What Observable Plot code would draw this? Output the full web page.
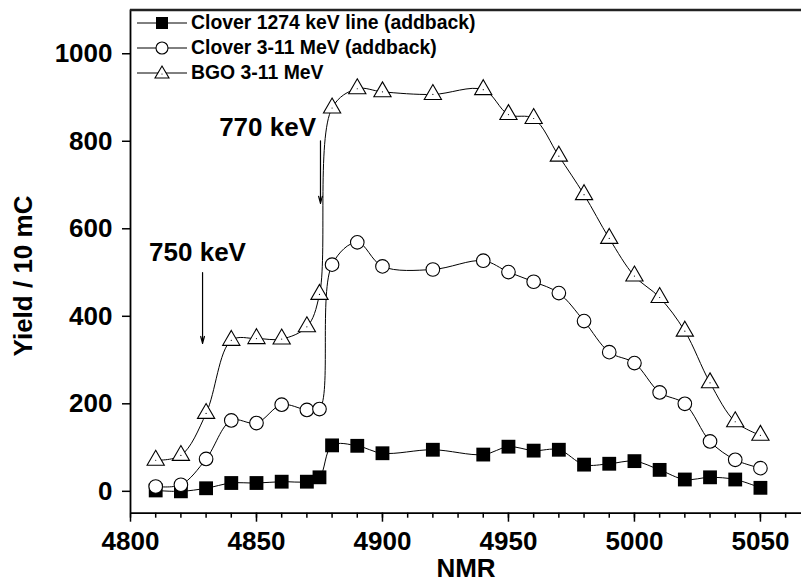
<!DOCTYPE html>
<html><head><meta charset="utf-8">
<script src="https://cdn.jsdelivr.net/npm/d3@7"></script>
<script src="https://cdn.jsdelivr.net/npm/@observablehq/plot@0.6"></script>
<style>
body{margin:0;background:#fff;}
#wrap{position:relative;width:801px;height:586px;font-family:"Liberation Sans",Arial,sans-serif;background:#fff;overflow:hidden;}
#legend{position:absolute;left:137px;top:10px;font-weight:bold;font-size:19.4px;color:#000;}
#legend .row{display:flex;align-items:center;height:25px;}
#legend svg{margin-right:4px;}
#ytitle{position:absolute;left:23px;top:276px;transform:translate(-50%,-50%) rotate(-90deg);white-space:nowrap;font-weight:bold;font-size:26px;color:#000;}
</style></head><body><div id="wrap"><div id="legend"></div><div id="ytitle">Yield / 10 mC</div></div>
<script>
// ---- data ----
const nmr = [4810,4820,4830,4840,4850,4860,4870,4875,4880,4890,4900,4920,4940,4950,4960,4970,4980,4990,5000,5010,5020,5030,5040,5050];
const clover1274 = [2,0,7,19,19,22,22,32,105,104,87,95,84,102,93,95,61,63,69,49,27,32,27,8];
const clover311 = [11,15,74,162,156,198,186,188,518,569,514,507,527,501,479,453,389,318,293,226,200,114,72,53];
const bgo = [71,82,178,345,349,348,376,450,876,920,913,907,918,861,852,766,678,578,492,443,366,248,159,128];
const seriesNames = ["Clover 1274 keV line (addback)", "Clover 3-11 MeV (addback)", "BGO 3-11 MeV"];
const xTicks = [4800,4850,4900,4950,5000,5050];
const xMinorTicks = [4800,4810,4820,4830,4840,4850,4860,4870,4880,4890,4900,4910,4920,4930,4940,4950,4960,4970,4980,4990,5000,5010,5020,5030,5040,5050,5060];
const yTicks = [0,200,400,600,800,1000];
const annotLabels = ["750 keV","770 keV"];
const annotLabelX = [4826.6, 4854.4];
const annotLabelY = [546, 830];
const arrowX = [4828.6, 4875.4];
const arrowTop = [500, 801];
const arrowBottom = [338, 658];

// ---- build ----
const allValues = [clover1274, clover311, bgo];
const rows = allValues.flatMap((vals, s) => nmr.map((x, i) => ({x, y: vals[i], name: seriesNames[s]})));
const sq = rows.filter(d => d.name === seriesNames[0]);
const ci = rows.filter(d => d.name === seriesNames[1]);
const tr = rows.filter(d => d.name === seriesNames[2]);
const annots = annotLabels.map((t, i) => ({t, lx: annotLabelX[i], ly: annotLabelY[i], ax: arrowX[i], a1: arrowTop[i], a2: arrowBottom[i]}));

const font = "'Liberation Sans', Arial, sans-serif";
const plot = Plot.plot({
  width: 801, height: 586,
  marginLeft: 130, marginRight: 0, marginTop: 9.5, marginBottom: 73.3,
  x: {domain: [4800, 5066.3]},
  y: {domain: [-50, 1100]},
  style: {fontFamily: font, fontWeight: "bold", fontSize: "26px", background: "white", color: "black"},
  marks: [
    Plot.axisX({ticks: xMinorTicks, tickSize: 5, tickFormat: () => "", strokeWidth: 1.5, label: null}),
    Plot.axisX({ticks: xTicks, tickSize: 9, tickPadding: 9, tickFormat: d => String(d), strokeWidth: 1.5, fontSize: 26, fontWeight: "bold", label: null}),
    Plot.axisY({ticks: yTicks, tickSize: 8, tickPadding: 10, tickFormat: d => String(d), strokeWidth: 1.5, fontSize: 26, fontWeight: "bold", label: null}),
    Plot.ruleX([4800], {strokeWidth: 1.8}),
    Plot.ruleY([-50], {strokeWidth: 1.8}),
    Plot.ruleY([1100], {strokeWidth: 2.3, stroke: "#222"}),
    Plot.text(["NMR"], {frameAnchor: "bottom", dy: 64, fontSize: 26, fontWeight: "bold"}),
    Plot.line(rows, {x: "x", y: "y", z: "name", curve: "catmull-rom", stroke: "black", strokeWidth: 1}),
    Plot.dot(sq, {x: "x", y: "y", symbol: "square", r: 7.8, fill: "black", stroke: "none"}),
    Plot.dot(ci, {x: "x", y: "y", symbol: "circle", r: 6.8, fill: "white", stroke: "black", strokeWidth: 1.1}),
    Plot.dot(tr, {x: "x", y: "y", symbol: "triangle", r: 6.4, fill: "white", stroke: "black", strokeWidth: 1.1}),
    Plot.dot(tr, {x: "x", y: "y", r: 0.6, fill: "black", stroke: "none"}),
    Plot.arrow(annots, {x1: "ax", y1: "a1", x2: "ax", y2: "a2", stroke: "black", strokeWidth: 1.2, headLength: 9, headAngle: 30}),
    Plot.text(annots, {x: "lx", y: "ly", text: "t", fontSize: 26, fontWeight: "bold"})
  ]
});
const wrap = document.getElementById("wrap");
wrap.insertBefore(plot, wrap.firstChild);
plot.style.position = "absolute"; plot.style.left = "0"; plot.style.top = "0";

// legend
const symbolsSvg = [
  '<rect x="19" y="4" width="12" height="12" fill="black"/>',
  '<circle cx="25" cy="10" r="6" fill="white" stroke="black" stroke-width="1.1"/>',
  '<path d="M25,3 L32,15 L18,15 Z" fill="white" stroke="black" stroke-width="1.1"/><circle cx="25" cy="11" r="0.6" fill="black"/>'
];
const legend = document.getElementById("legend");
seriesNames.forEach((n, i) => {
  const row = document.createElement("div");
  row.className = "row";
  row.innerHTML = '<svg width="50" height="20"><line x1="0" x2="50" y1="10" y2="10" stroke="black" stroke-width="1"/>' + symbolsSvg[i] + '</svg><span>' + n + '</span>';
  legend.appendChild(row);
});
</script>
</body></html>
